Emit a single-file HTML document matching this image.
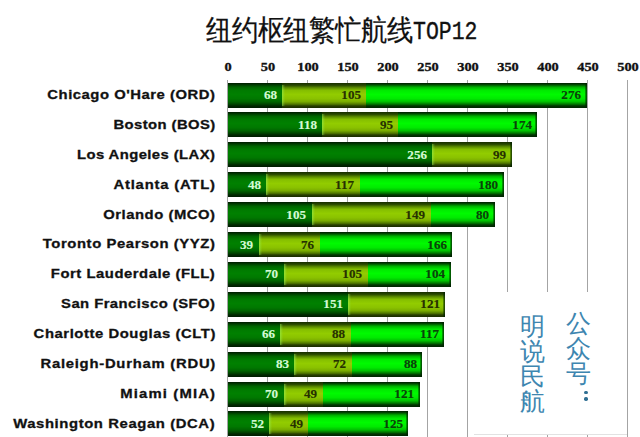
<!DOCTYPE html><html><head><meta charset="utf-8"><style>
*{margin:0;padding:0;box-sizing:border-box}
html,body{width:640px;height:437px;overflow:hidden;background:#fff}
body{position:relative;font-family:"Liberation Sans",sans-serif}
.t{position:absolute;white-space:nowrap}
.title{left:206px;top:14px;font-size:26px;color:#111;line-height:30px;letter-spacing:-0.2px;transform:scale(1,1.1);transform-origin:0 4px;-webkit-text-stroke:0.2px #111}
.ttop{left:413px;top:17.3px;font-family:'Liberation Mono',monospace;font-size:21.5px;color:#111;line-height:30px;transform:scale(1,1.2);transform-origin:left center;-webkit-text-stroke:0.3px #111}
.ax{position:absolute;top:60.5px;font-family:'Liberation Serif',serif;font-weight:bold;font-size:11.5px;color:#111;line-height:12px;width:40px;text-align:center;transform:scaleX(1.25);-webkit-text-stroke:0.3px #111}
.gl{position:absolute;top:80px;width:1px;height:357px;background:#a4a4a4}
.row{position:absolute;left:228px;height:25px;overflow:hidden}
.seg{position:absolute;top:0;height:100%}
.d{background:linear-gradient(#001c00 0.0%,#002c00 4.2%,#004000 8.3%,#006400 16.7%,#007a00 29.2%,#008000 45.8%,#007800 62.5%,#006400 75.0%,#004200 85.4%,#002800 91.7%,#001c00 100.0%)}
.o{background:linear-gradient(#1a3000 0.0%,#1e3800 4.2%,#2e5000 10.4%,#5a8a00 18.8%,#84be00 29.2%,#92cc00 45.8%,#8ac200 62.5%,#7aac00 75.0%,#4e7400 85.4%,#283e00 91.7%,#1a2c00 100.0%)}
.b{background:linear-gradient(#002000 0.0%,#003400 4.2%,#005a00 8.3%,#00b000 16.7%,#00ea00 29.2%,#00fa00 45.8%,#00ea00 62.5%,#00c000 75.0%,#007000 85.4%,#003400 91.7%,#002400 100.0%)}
.o::before{content:'';position:absolute;left:0;top:8%;bottom:8%;width:3px;background:linear-gradient(90deg,rgba(150,240,90,0.55),rgba(150,240,90,0))}
.endc{position:absolute;top:0;right:0;width:2px;height:100%;background:linear-gradient(90deg,rgba(0,40,0,0.3),rgba(0,30,0,0.85))}
.lab{position:absolute;right:425px;font-weight:bold;font-size:13px;color:#111;line-height:14px;transform-origin:right center;-webkit-text-stroke:0.3px #111}
.v{position:absolute;font-family:'Liberation Serif',serif;font-weight:bold;font-size:11.5px;line-height:12px;text-align:right;width:40px;transform:scaleX(1.14);transform-origin:right center;-webkit-text-stroke:0.15px currentColor}
.vd{color:#d4fad4}
.vo{color:#263000}
.vb{color:#0a420a}
.wm{position:absolute;background:#fff}
.wc{position:absolute;color:#3e86b0;font-size:25px;line-height:25px;width:26px;text-align:center;font-weight:300}
.col{position:relative;left:7px;top:-2px}
</style></head><body>
<div class="t title">纽约枢纽繁忙航线</div>
<div class="t ttop">TOP12</div>
<div class="gl" style="left:227.1px"></div>
<div class="gl" style="left:267.1px"></div>
<div class="gl" style="left:307.1px"></div>
<div class="gl" style="left:347.1px"></div>
<div class="gl" style="left:387.1px"></div>
<div class="gl" style="left:427.1px"></div>
<div class="gl" style="left:467.1px"></div>
<div class="gl" style="left:507.1px"></div>
<div class="gl" style="left:547.1px"></div>
<div class="gl" style="left:587.1px"></div>
<div class="gl" style="left:627.1px"></div>
<div class="ax" style="left:207.6px">0</div>
<div class="ax" style="left:247.6px">50</div>
<div class="ax" style="left:287.6px">100</div>
<div class="ax" style="left:327.6px">150</div>
<div class="ax" style="left:367.6px">200</div>
<div class="ax" style="left:407.6px">250</div>
<div class="ax" style="left:447.6px">300</div>
<div class="ax" style="left:487.6px">350</div>
<div class="ax" style="left:527.6px">400</div>
<div class="ax" style="left:567.6px">450</div>
<div class="ax" style="left:607.6px">500</div>
<div class="lab" style="top:87.90px;right:424.47px;transform:scaleX(1.14);letter-spacing:0.462px">Chicago O'Hare (ORD)</div>
<div class="row" style="top:82.50px;width:358.8px"><div class="seg d" style="left:-0.4px;width:54.4px"></div><div class="seg o" style="left:54.0px;width:84.0px"></div><div class="seg b" style="left:138.0px;width:220.8px"></div><div class="endc"></div></div>
<div class="v vd" style="left:236.5px;top:89.00px">68</div>
<div class="v vo" style="left:320.5px;top:89.00px">105</div>
<div class="v vb" style="left:541.3px;top:89.00px">276</div>
<div class="lab" style="top:117.80px;right:424.57px;transform:scaleX(1.14);letter-spacing:0.377px">Boston (BOS)</div>
<div class="row" style="top:112.40px;width:309.2px"><div class="seg d" style="left:-0.4px;width:94.4px"></div><div class="seg o" style="left:94.0px;width:76.0px"></div><div class="seg b" style="left:170.0px;width:139.2px"></div><div class="endc"></div></div>
<div class="v vd" style="left:276.5px;top:118.90px">118</div>
<div class="v vo" style="left:352.5px;top:118.90px">95</div>
<div class="v vb" style="left:491.7px;top:118.90px">174</div>
<div class="lab" style="top:147.70px;right:424.58px;transform:scaleX(1.14);letter-spacing:0.367px">Los Angeles (LAX)</div>
<div class="row" style="top:142.30px;width:283.6px"><div class="seg d" style="left:-0.4px;width:204.8px"></div><div class="seg o" style="left:204.4px;width:79.2px"></div><div class="endc"></div></div>
<div class="v vd" style="left:386.9px;top:148.80px">256</div>
<div class="v vo" style="left:466.1px;top:148.80px">99</div>
<div class="lab" style="top:177.60px;right:424.19px;transform:scaleX(1.14);letter-spacing:0.707px">Atlanta (ATL)</div>
<div class="row" style="top:172.20px;width:275.6px"><div class="seg d" style="left:-0.4px;width:38.4px"></div><div class="seg o" style="left:38.0px;width:93.6px"></div><div class="seg b" style="left:131.6px;width:144.0px"></div><div class="endc"></div></div>
<div class="v vd" style="left:220.5px;top:178.70px">48</div>
<div class="v vo" style="left:314.1px;top:178.70px">117</div>
<div class="v vb" style="left:458.1px;top:178.70px">180</div>
<div class="lab" style="top:207.50px;right:424.47px;transform:scaleX(1.14);letter-spacing:0.469px">Orlando (MCO)</div>
<div class="row" style="top:202.10px;width:266.8px"><div class="seg d" style="left:-0.4px;width:84.0px"></div><div class="seg o" style="left:83.6px;width:119.2px"></div><div class="seg b" style="left:202.8px;width:64.0px"></div><div class="endc"></div></div>
<div class="v vd" style="left:266.1px;top:208.60px">105</div>
<div class="v vo" style="left:385.3px;top:208.60px">149</div>
<div class="v vb" style="left:449.3px;top:208.60px">80</div>
<div class="lab" style="top:237.40px;right:424.41px;transform:scaleX(1.14);letter-spacing:0.517px">Toronto Pearson (YYZ)</div>
<div class="row" style="top:232.00px;width:224.4px"><div class="seg d" style="left:-0.4px;width:31.2px"></div><div class="seg o" style="left:30.8px;width:60.8px"></div><div class="seg b" style="left:91.6px;width:132.8px"></div><div class="endc"></div></div>
<div class="v vd" style="left:213.3px;top:238.50px">39</div>
<div class="v vo" style="left:274.1px;top:238.50px">76</div>
<div class="v vb" style="left:406.9px;top:238.50px">166</div>
<div class="lab" style="top:267.30px;right:424.46px;transform:scaleX(1.14);letter-spacing:0.474px">Fort Lauderdale (FLL)</div>
<div class="row" style="top:261.90px;width:222.8px"><div class="seg d" style="left:-0.4px;width:56.0px"></div><div class="seg o" style="left:55.6px;width:84.0px"></div><div class="seg b" style="left:139.6px;width:83.2px"></div><div class="endc"></div></div>
<div class="v vd" style="left:238.1px;top:268.40px">70</div>
<div class="v vo" style="left:322.1px;top:268.40px">105</div>
<div class="v vb" style="left:405.3px;top:268.40px">104</div>
<div class="lab" style="top:297.20px;right:424.55px;transform:scaleX(1.14);letter-spacing:0.395px">San Francisco (SFO)</div>
<div class="row" style="top:291.80px;width:217.2px"><div class="seg d" style="left:-0.4px;width:120.8px"></div><div class="seg o" style="left:120.4px;width:96.8px"></div><div class="endc"></div></div>
<div class="v vd" style="left:302.9px;top:298.30px">151</div>
<div class="v vo" style="left:399.7px;top:298.30px">121</div>
<div class="lab" style="top:327.10px;right:424.43px;transform:scaleX(1.14);letter-spacing:0.496px">Charlotte Douglas (CLT)</div>
<div class="row" style="top:321.70px;width:216.4px"><div class="seg d" style="left:-0.4px;width:52.8px"></div><div class="seg o" style="left:52.4px;width:70.4px"></div><div class="seg b" style="left:122.8px;width:93.6px"></div><div class="endc"></div></div>
<div class="v vd" style="left:234.9px;top:328.20px">66</div>
<div class="v vo" style="left:305.3px;top:328.20px">88</div>
<div class="v vb" style="left:398.9px;top:328.20px">117</div>
<div class="lab" style="top:357.00px;right:424.25px;transform:scaleX(1.14);letter-spacing:0.659px">Raleigh-Durham (RDU)</div>
<div class="row" style="top:351.60px;width:194.0px"><div class="seg d" style="left:-0.4px;width:66.4px"></div><div class="seg o" style="left:66.0px;width:57.6px"></div><div class="seg b" style="left:123.6px;width:70.4px"></div><div class="endc"></div></div>
<div class="v vd" style="left:248.5px;top:358.10px">83</div>
<div class="v vo" style="left:306.1px;top:358.10px">72</div>
<div class="v vb" style="left:376.5px;top:358.10px">88</div>
<div class="lab" style="top:386.90px;right:423.84px;transform:scaleX(1.14);letter-spacing:1.017px">Miami (MIA)</div>
<div class="row" style="top:381.50px;width:191.6px"><div class="seg d" style="left:-0.4px;width:56.0px"></div><div class="seg o" style="left:55.6px;width:39.2px"></div><div class="seg b" style="left:94.8px;width:96.8px"></div><div class="endc"></div></div>
<div class="v vd" style="left:238.1px;top:388.00px">70</div>
<div class="v vo" style="left:277.3px;top:388.00px">49</div>
<div class="v vb" style="left:374.1px;top:388.00px">121</div>
<div class="lab" style="top:416.80px;right:424.39px;transform:scaleX(1.14);letter-spacing:0.536px">Washington Reagan (DCA)</div>
<div class="row" style="top:411.40px;width:180.4px"><div class="seg d" style="left:-0.4px;width:41.6px"></div><div class="seg o" style="left:41.2px;width:39.2px"></div><div class="seg b" style="left:80.4px;width:100.0px"></div><div class="endc"></div></div>
<div class="v vd" style="left:223.7px;top:417.90px">52</div>
<div class="v vo" style="left:262.9px;top:417.90px">49</div>
<div class="v vb" style="left:362.9px;top:417.90px">125</div>
<div class="wm" style="left:474px;top:291.5px;width:153px;height:143px;border-bottom:1px solid #e2e2e2"></div>
<div class="wc" style="left:519.5px;top:314px">明<br>说<br>民<br>航</div>
<div class="wc" style="left:565.5px;top:311px">公<br>众<br>号</div>
<div style="position:absolute;left:584.3px;top:391px;width:3.4px;height:3.4px;border-radius:50%;background:#2f6f92"></div>
<div style="position:absolute;left:584.3px;top:397.2px;width:3.4px;height:3.4px;border-radius:50%;background:#2f6f92"></div>
</body></html>
